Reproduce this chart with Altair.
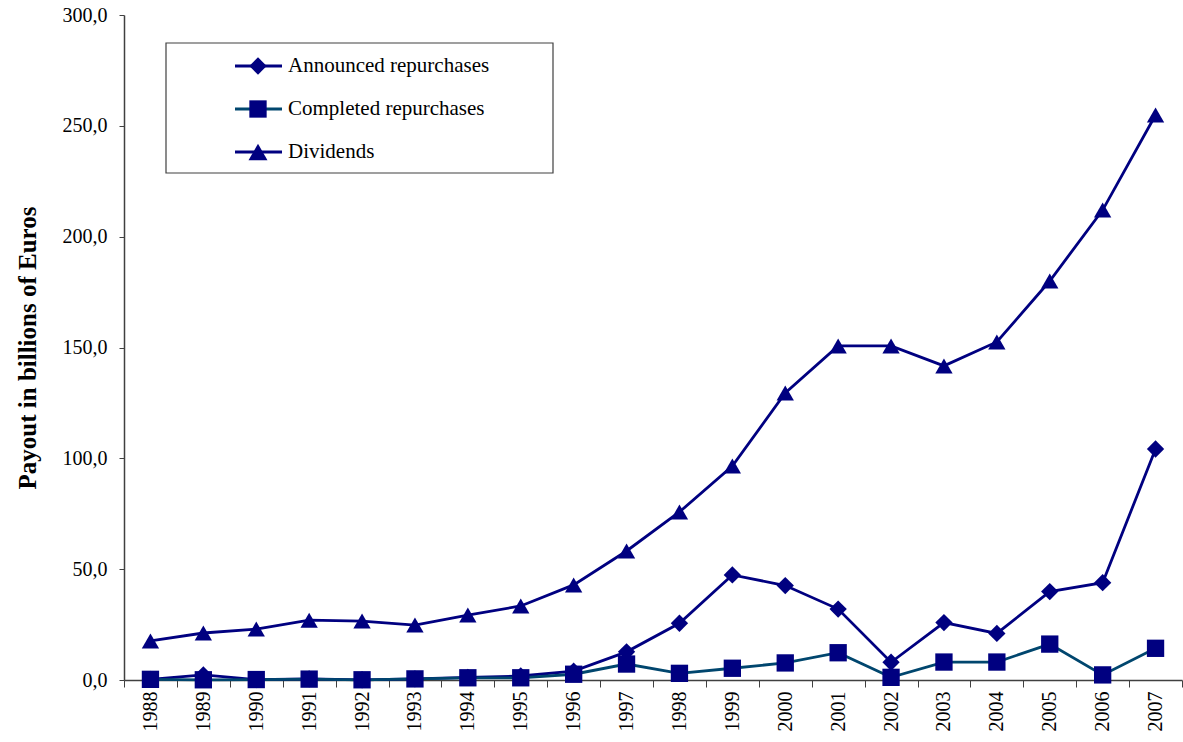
import altair as alt
import pandas as pd

years = [str(y) for y in range(1988, 2008)]
announced = [0.3, 2.3, 0.2, 0.5, 0.1, 0.5, 1.2, 1.8, 4.0, 12.7, 25.6, 47.4, 42.6, 32.0, 8.0, 25.9, 21.0, 39.9, 43.9, 104.2]
completed = [0.3, 0.1, 0.2, 0.4, 0.1, 0.5, 1.0, 1.0, 2.6, 7.2, 3.0, 5.3, 7.7, 12.3, 1.2, 8.1, 8.1, 16.2, 2.3, 14.3]
dividends = [17.6, 21.2, 23.0, 27.0, 26.6, 24.8, 29.3, 33.4, 42.9, 58.2, 75.8, 96.5, 129.5, 150.7, 150.7, 141.7, 152.5, 180.0, 212.0, 254.9]

series = ["Announced repurchases", "Completed repurchases", "Dividends"]
line_colors = ["#000080", "#00466E", "#000080"]
marker_color = "#000080"
shapes = ["diamond", "square", "triangle-up"]
sizes = [300, 300, 360]

rows = []
for name, vals in zip(series, [announced, completed, dividends]):
    for y, v in zip(years, vals):
        rows.append({"year": y, "value": v, "series": name})
df = pd.DataFrame(rows)

FONT = "Liberation Serif"

x_enc = alt.X(
    "year:O",
    scale=alt.Scale(type="band", paddingInner=0, paddingOuter=0),
    bandPosition=0.5,
    sort=years,
    axis=alt.Axis(
        title=None,
        labelAngle=270,
        labelFont=FONT,
        labelFontSize=20,
        labelColor="black",
        labelPadding=4,
        tickBand="extent",
        tickSize=7,
        tickColor="#404040",
        domainColor="#404040",
        domainWidth=1.5,
        grid=False,
    ),
)
y_enc = alt.Y(
    "value:Q",
    scale=alt.Scale(domain=[0, 300], nice=False),
    axis=alt.Axis(
        title="Payout in billions of Euros",
        titleFont=FONT,
        titleFontSize=25,
        titleFontWeight="bold",
        titleColor="black",
        titlePadding=22,
        values=[0, 50, 100, 150, 200, 250, 300],
        labelExpr="replace(format(datum.value, '.1f'), '.', ',')",
        labelFont=FONT,
        labelFontSize=20,
        labelColor="black",
        labelPadding=12,
        tickSize=5,
        tickColor="#404040",
        domainColor="#404040",
        domainWidth=1.5,
        grid=False,
    ),
)

lines = alt.Chart(df).mark_line(strokeWidth=2.8).encode(
    x=x_enc,
    y=y_enc,
    color=alt.Color("series:N", scale=alt.Scale(domain=series, range=line_colors), legend=None),
    detail="series:N",
)
points = alt.Chart(df).mark_point(filled=True, opacity=1, color=marker_color).encode(
    x=x_enc,
    y=y_enc,
    shape=alt.Shape("series:N", scale=alt.Scale(domain=series, range=shapes), legend=None),
    size=alt.Size("series:N", scale=alt.Scale(domain=series, range=sizes), legend=None),
)

one = pd.DataFrame({"a": [0]})
legend_box = alt.Chart(one).mark_rect(fill="white", stroke="#404040", strokeWidth=1.2).encode(
    x=alt.value(42), x2=alt.value(429), y=alt.value(28), y2=alt.value(158)
)
legend_layers = [legend_box]
row_y = [51, 94, 137]
for i, name in enumerate(series):
    legend_layers.append(
        alt.Chart(one).mark_rule(color=line_colors[i], strokeWidth=2.8).encode(
            x=alt.value(111), x2=alt.value(158), y=alt.value(row_y[i])
        )
    )
    legend_layers.append(
        alt.Chart(one).mark_point(shape=shapes[i], filled=True, opacity=1, color=marker_color, size=sizes[i]).encode(
            x=alt.value(134), y=alt.value(row_y[i])
        )
    )
    legend_layers.append(
        alt.Chart(one).mark_text(align="left", baseline="middle", font=FONT, fontSize=21, color="black").encode(
            x=alt.value(164), y=alt.value(row_y[i]), text=alt.value(name)
        )
    )

chart = alt.layer(lines, points, *legend_layers).properties(
    width=1183,
    height=742,
    autosize=alt.AutoSizeParams(type="fit", contains="padding"),
    padding={"left": 15, "top": 5, "right": 0, "bottom": 11},
    background="white",
).configure_view(stroke=None)

chart.save("out.html", embed_options={"renderer": "svg", "actions": False})
